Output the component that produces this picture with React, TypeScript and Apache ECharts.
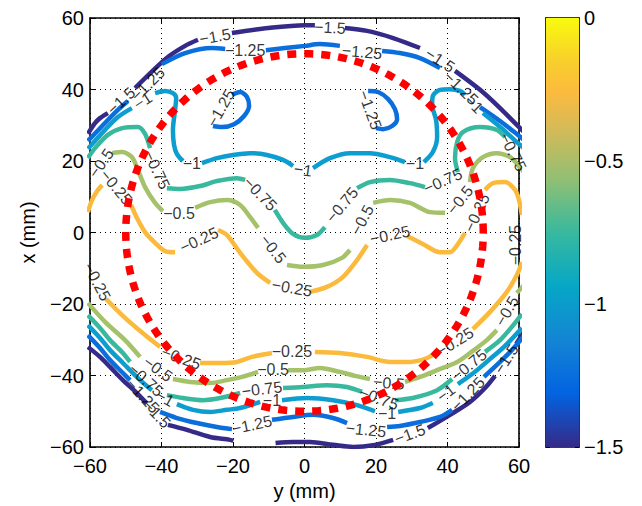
import React, { useEffect, useRef } from 'react';
import * as echarts from 'echarts';

type P = [number, number];
type L = [number, number, number]; // [y (mm), x (mm), label angle]

const LEVELS = [-1.5, -1.25, -1, -0.75, -0.5, -0.25];
const LEVEL_COLORS = ['#352A87', '#0A6EDD', '#0E9DCF', '#38B99E', '#A5C26A', '#FBBA3C'];

// contour lines, one array of polyline segments per level: points are [y (mm), x (mm)]
const SEG_M150: P[][] = [
  [[-60.6, 27.6], [-58.6, 30.6], [-57.2, 32.0], [-55.0, 33.4]],
  [[-47.4, 40.4], [-42.7, 45.0], [-38.2, 49.1], [-33.4, 52.2], [-29.8, 53.9]],
  [[-20.3, 55.8], [-10.2, 57.2], [0.1, 58.0], [2.9, 58.0]],
  [[11.3, 57.2], [17.5, 56.4], [24.8, 54.4], [32.3, 51.6]],
  [[42.1, 45.2], [49.1, 39.9], [54.7, 34.8], [59.4, 30.1], [61.4, 28.1]],
  [[-60.6, -32.0], [-57.2, -34.8], [-54.4, -37.6], [-50.8, -41.3], [-46.9, -44.9], [-44.1, -47.8]],
  [[-38.2, -53.8], [-32.9, -55.2], [-26.4, -57.2], [-20.8, -58.0], [-19.9, -58.3]],
  [[-8.1, -58.9], [-3.2, -58.6], [1.5, -58.6], [8.0, -59.4], [13.6, -60.0], [19.7, -59.4], [24.8, -58.0]],
  [[34.5, -54.7], [40.7, -51.0], [46.3, -47.4], [50.5, -43.5], [53.3, -40.1]],
  [[59.2, -31.2], [61.4, -27.8]],
];
const LAB_M150: L[] = [
  [-51.3, 36.8, 43], [-25.0, 54.8, 10], [7.1, 57.3, -3], [37.9, 48.2, -33],
  [-41.3, -50.8, -46], [29.5, -56.4, 20], [56.4, -35.4, 57],
];

const SEG_M125: P[][] = [
  [[-60.6, 25.6], [-56.6, 29.8], [-52.2, 34.3], [-49.4, 36.8]],
  [[-39.9, 47.1], [-33.4, 50.2], [-25.9, 51.6], [-22.2, 51.3]],
  [[-10.8, 51.0], [-5.5, 51.6], [0.1, 52.2], [4.3, 52.7], [9.9, 52.2]],
  [[21.7, 50.8], [26.7, 50.2], [32.3, 48.8], [37.9, 46.0]],
  [[49.1, 35.1], [54.7, 31.2], [59.7, 27.3], [61.4, 25.9]],
  [[-20.3, 38.5], [-18.0, 39.3], [-16.1, 37.9], [-15.5, 35.4], [-16.9, 32.6], [-19.7, 30.3], [-23.1, 29.5], [-25.6, 29.8]],
  [[17.8, 39.6], [20.6, 39.3], [23.4, 37.3], [25.3, 34.5], [25.9, 31.7], [24.5, 29.8], [22.0, 28.9], [20.0, 29.2]],
  [[-60.6, -28.7], [-57.2, -32.3], [-54.4, -35.7], [-50.8, -39.3], [-48.8, -41.3]],
  [[-40.4, -50.2], [-35.7, -51.9], [-30.1, -53.3], [-24.5, -54.4], [-20.3, -55.0]],
  [[-9.1, -52.4], [-3.2, -51.6], [2.4, -51.0], [8.0, -51.9], [11.9, -53.3]],
  [[23.1, -54.4], [26.7, -54.1], [32.3, -53.0], [37.9, -51.6], [41.3, -49.6]],
  [[50.2, -40.4], [54.7, -36.2], [58.0, -32.9], [61.4, -28.9]],
];
const LAB_M125: L[] = [
  [-43.8, 41.5, 45], [-16.6, 50.8, 0], [16.1, 50.5, -5], [43.8, 40.4, -44],
  [-23.4, 34.8, 60], [18.3, 34.3, -70],
  [-45.2, -45.7, -47], [-14.7, -53.8, 12], [17.2, -55.2, -6], [45.7, -45.2, 46],
];

const SEG_M100: P[][] = [
  [[-60.6, 23.4], [-55.8, 28.7], [-52.2, 32.3], [-48.3, 34.8]],
  [[-41.8, 39.0], [-39.0, 39.6], [-36.8, 39.0], [-35.9, 37.6], [-36.2, 34.3], [-36.8, 28.7], [-36.5, 24.5], [-35.7, 22.0], [-34.0, 20.0]],
  [[-28.7, 19.4], [-24.5, 20.8], [-20.0, 21.7], [-15.2, 22.2], [-10.5, 21.7], [-6.0, 20.3], [-3.2, 18.6]],
  [[2.4, 18.0], [7.1, 20.8], [12.7, 22.2], [18.3, 22.2], [23.9, 21.1], [28.1, 19.7]],
  [[33.4, 19.7], [35.9, 22.5], [37.1, 26.7], [36.8, 31.5], [35.7, 35.7], [35.9, 38.2], [37.9, 39.9], [40.7, 40.1], [43.5, 39.6], [44.9, 38.5]],
  [[49.9, 33.4], [54.7, 29.5], [59.7, 25.0], [61.4, 23.6]],
  [[-60.6, -25.9], [-57.2, -29.5], [-54.4, -32.9], [-50.8, -36.5], [-46.0, -41.3], [-42.7, -44.1]],
  [[-35.7, -48.0], [-31.2, -49.6], [-26.4, -50.2], [-21.7, -49.6], [-18.0, -49.1], [-12.4, -47.4]],
  [[-6.3, -46.9], [0.7, -46.3], [8.0, -46.9], [14.7, -48.3], [19.7, -50.0]],
  [[26.2, -50.2], [32.3, -49.1], [35.9, -47.7]],
  [[42.9, -42.4], [46.9, -39.6], [51.3, -35.9], [55.8, -32.0], [60.8, -26.7]],
];
const LAB_M100: L[] = [
  [-45.2, 36.8, 33], [-31.5, 19.4, 0], [-0.4, 17.5, -8], [30.9, 19.4, 0], [47.4, 35.9, -45],
  [-39.0, -46.3, -29], [-9.1, -47.1, 0], [23.1, -50.5, 0], [39.6, -44.9, 37],
];

const SEG_M075: P[][] = [
  [[-60.6, 20.8], [-58.6, 23.6], [-55.0, 27.3], [-51.0, 29.2], [-46.6, 29.5], [-44.6, 27.6], [-43.2, 23.6]],
  [[-38.5, 12.4], [-34.8, 12.2], [-29.2, 13.0], [-24.5, 14.4], [-18.9, 15.2], [-16.6, 14.7]],
  [[-8.3, 6.3], [-6.0, 2.7], [-3.2, -0.4], [0.1, -1.5], [3.5, -0.7], [5.7, 1.5]],
  [[14.7, 12.4], [18.3, 14.1], [23.9, 14.7], [29.5, 13.8], [33.7, 12.7]],
  [[42.9, 16.9], [42.1, 20.8], [42.7, 25.3], [44.3, 28.1], [49.1, 29.5], [53.8, 28.7], [56.1, 26.7]],
  [[-60.6, -23.1], [-57.2, -26.7], [-54.4, -30.1], [-50.8, -33.7], [-48.8, -36.2]],
  [[-38.5, -45.5], [-34.0, -46.3], [-28.4, -46.9], [-23.6, -46.3], [-18.0, -44.9]],
  [[-6.0, -43.5], [-0.4, -43.2], [6.3, -42.7], [11.9, -43.2], [16.1, -44.6]],
  [[25.3, -46.9], [30.3, -46.3], [37.1, -44.1], [41.3, -41.0]],
  [[50.5, -33.4], [54.7, -30.1], [58.0, -26.4], [60.8, -22.8]],
];
const LAB_M075: L[] = [
  [-41.3, 17.5, -65], [-12.4, 10.8, -46], [10.5, 7.7, 50], [38.7, 14.4, 24], [58.3, 22.5, -63],
  [-44.3, -41.3, -42], [-11.9, -43.8, 7], [20.8, -46.4, -20], [46.0, -37.1, 39],
];

const SEG_M050: P[][] = [
  [[-53.8, 22.2], [-51.0, 22.5], [-48.3, 21.1], [-46.6, 17.5], [-44.6, 12.7], [-41.8, 8.3], [-39.6, 6.0]],
  [[-30.6, 6.9], [-26.4, 8.5], [-21.7, 9.1], [-18.0, 7.7], [-15.2, 4.3], [-13.0, 1.3]],
  [[-4.9, -9.1], [-0.4, -9.6], [5.2, -9.1], [10.5, -7.1], [12.7, -4.9]],
  [[19.2, 8.3], [23.9, 9.1], [29.5, 8.3], [35.1, 5.7], [39.3, 5.5]],
  [[46.3, 14.1], [47.1, 18.0], [49.9, 21.1], [53.8, 22.2], [57.5, 21.1], [59.7, 18.9], [61.4, 16.9]],
  [[-60.6, -19.7], [-55.8, -25.0], [-50.2, -30.1], [-46.0, -34.8]],
  [[-36.8, -41.0], [-32.0, -41.8], [-26.4, -42.1], [-21.7, -41.3], [-17.5, -40.4], [-13.0, -39.0]],
  [[-4.6, -38.5], [0.1, -38.5], [4.3, -37.9], [9.9, -39.0], [14.1, -40.1], [18.3, -41.0]],
  [[28.1, -41.8], [32.3, -40.4], [37.1, -38.5], [42.7, -36.2], [46.3, -33.7], [51.0, -30.1], [53.8, -27.3]],
  [[59.4, -16.9], [61.4, -14.7]],
];
const LAB_M050: L[] = [
  [-56.9, 19.4, 55], [-35.1, 5.2, 0], [-8.8, -4.6, -52], [16.1, 3.5, 62], [43.5, 9.1, 51],
  [-41.0, -38.2, -36], [-8.8, -38.2, 0], [23.6, -42.1, -5], [56.6, -22.0, 60],
];

const SEG_M025: P[][] = [
  [[-60.6, 5.7], [-59.4, 9.1], [-58.0, 11.6], [-56.6, 13.3]],
  [[-48.5, 7.7], [-46.9, 4.1], [-44.6, 0.1], [-41.8, -2.9], [-39.0, -5.2], [-36.2, -5.5]],
  [[-24.2, 0.7], [-21.7, -0.7], [-18.0, -5.7], [-13.3, -11.3], [-9.6, -14.1]],
  [[1.5, -16.6], [6.3, -15.2], [10.8, -12.4], [14.7, -7.7], [17.5, -3.5]],
  [[28.7, -1.0], [33.1, -3.2], [37.9, -5.5], [40.7, -5.5], [42.7, -3.5], [44.9, -0.1]],
  [[50.5, 11.9], [52.7, 13.8], [56.1, 14.1], [58.9, 11.9], [60.0, 9.1], [60.8, 4.9]],
  [[-55.5, -18.6], [-50.2, -23.9], [-44.6, -28.7], [-40.4, -32.0]],
  [[-29.2, -36.5], [-23.6, -36.5], [-18.9, -36.2], [-14.7, -34.8], [-9.1, -33.7]],
  [[2.9, -33.4], [9.9, -33.7], [17.5, -34.8], [23.9, -36.2], [29.5, -36.2], [34.3, -35.1], [36.8, -33.4]],
  [[47.1, -27.0], [51.9, -22.2], [56.6, -16.6], [59.4, -11.9], [60.8, -8.3]],
];
const LAB_M025: L[] = [
  [-52.7, 12.7, -50], [-29.5, -2.1, 25], [-3.5, -15.5, -10], [23.9, -0.7, 12], [48.2, 5.5, 65], [59.0, -3.5, 90],
  [-58.0, -13.8, -62], [-34.5, -35.1, -20], [-3.5, -33.4, 0], [42.1, -30.6, 32],
];

const CONTOURS = [SEG_M150, SEG_M125, SEG_M100, SEG_M075, SEG_M050, SEG_M025];
const CONTOUR_LABELS = [LAB_M150, LAB_M125, LAB_M100, LAB_M075, LAB_M050, LAB_M025];

const AXIS_MIN = -60;
const AXIS_MAX = 60;
const AXIS_STEP = 20;
const CBAR_MIN = -1.5;
const CBAR_MAX = 0;
const CBAR_STEP = 0.5;
const CIRCLE_RADIUS = 50; // red dashed reference circle, mm

// parula colormap stops: [fraction from min, colour]
const PARULA: [number, string][] = [
  [0, '#352A87'], [0.125, '#0363E1'], [0.25, '#1485D4'], [0.375, '#06A7C6'],
  [0.5, '#38B99E'], [0.625, '#92BF73'], [0.75, '#D9BA56'], [0.83, '#FCBB3E'],
  [0.9, '#F8CF2B'], [1, '#F9FB0E'],
];

const FONT = "'Liberation Sans', Arial, Helvetica, sans-serif";
const fmt = (v: number) => (v < 0 ? '\u2212' + String(Math.abs(v)) : String(v));

export default function App() {
  const ref = useRef<HTMLDivElement>(null);
  useEffect(() => {
    if (!ref.current) return;
    const chart = echarts.init(ref.current, undefined, { renderer: 'svg' });

    const series: any[] = [];
    CONTOURS.forEach((segs, i) => {
      segs.forEach((seg) => {
        series.push({
          type: 'line', xAxisIndex: 0, yAxisIndex: 0, data: seg, symbol: 'none', smooth: 0.3,
          lineStyle: { color: LEVEL_COLORS[i], width: 4.5 }, silent: true, z: 3, clip: true,
        });
      });
      series.push({
        type: 'scatter', xAxisIndex: 0, yAxisIndex: 0, symbolSize: 0, silent: true, z: 5,
        data: CONTOUR_LABELS[i].map(([u, v, r]) => ({ value: [u, v], label: { rotate: r } })),
        label: {
          show: true, position: 'inside', formatter: fmt(LEVELS[i]), fontSize: 16,
          color: '#000', fontFamily: FONT,
        },
      });
    });

    const circle: P[] = [];
    for (let k = 0; k <= 240; k++) {
      const t = (k / 240) * Math.PI * 2;
      circle.push([CIRCLE_RADIUS * Math.cos(t), CIRCLE_RADIUS * Math.sin(t)]);
    }
    series.push({
      type: 'line', xAxisIndex: 0, yAxisIndex: 0, data: circle, symbol: 'none',
      lineStyle: { color: '#FF0000', width: 7.5, type: [9, 8] }, silent: true, z: 6,
    });

    series.push({
      type: 'bar', xAxisIndex: 2, yAxisIndex: 2, data: [CBAR_MIN], barWidth: '100%', silent: true,
      itemStyle: {
        color: new echarts.graphic.LinearGradient(0, 0, 0, 1,
          PARULA.map(([o, c]) => ({ offset: 1 - o, color: c })).reverse()),
      },
    });

    const lineBlack = { show: true, onZero: false, lineStyle: { color: '#000', width: 1.6 } };
    const mainVal = { type: 'value', min: AXIS_MIN, max: AXIS_MAX, interval: AXIS_STEP };
    const tickIn = { show: true, inside: true, length: 5, lineStyle: { color: '#000' } };
    const labelStyle = { color: '#000', fontSize: 20, fontFamily: FONT, formatter: fmt };

    chart.setOption({
      animation: false,
      backgroundColor: '#fff',
      grid: [
        { left: 90, top: 18, width: 429, height: 429, containLabel: false },
        { left: 546, top: 18, width: 33, height: 429, containLabel: false },
      ],
      xAxis: [
        {
          ...mainVal, gridIndex: 0, position: 'bottom', axisLine: lineBlack, axisTick: tickIn,
          axisLabel: { ...labelStyle, margin: 9 },
          splitLine: { show: true, lineStyle: { color: '#000', width: 1, type: [1, 4] } },
          name: 'y (mm)', nameLocation: 'middle', nameGap: 34,
          nameTextStyle: { color: '#000', fontSize: 20, fontFamily: FONT },
        },
        {
          ...mainVal, gridIndex: 0, position: 'top', axisLine: lineBlack, axisTick: tickIn,
          axisLabel: { show: false }, splitLine: { show: false },
        },
        {
          type: 'category', data: ['cb'], gridIndex: 1, position: 'bottom', axisLine: lineBlack,
          axisTick: { show: false }, axisLabel: { show: false }, splitLine: { show: false },
        },
        {
          type: 'category', data: ['cb'], gridIndex: 1, position: 'top', axisLine: lineBlack,
          axisTick: { show: false }, axisLabel: { show: false }, splitLine: { show: false },
        },
      ],
      yAxis: [
        {
          ...mainVal, gridIndex: 0, position: 'left', axisLine: lineBlack, axisTick: tickIn,
          axisLabel: { ...labelStyle, margin: 6 },
          splitLine: { show: true, lineStyle: { color: '#000', width: 1, type: [1, 4] } },
          name: 'x (mm)', nameLocation: 'middle', nameGap: 52,
          nameTextStyle: { color: '#000', fontSize: 20, fontFamily: FONT },
        },
        {
          ...mainVal, gridIndex: 0, position: 'right', axisLine: lineBlack, axisTick: tickIn,
          axisLabel: { show: false }, splitLine: { show: false },
        },
        {
          type: 'value', gridIndex: 1, position: 'right', min: CBAR_MIN, max: CBAR_MAX, interval: CBAR_STEP,
          axisLine: lineBlack, axisTick: { show: true, inside: true, length: 4, lineStyle: { color: '#000' } },
          axisLabel: { ...labelStyle, margin: 5 }, splitLine: { show: false },
        },
        {
          type: 'value', gridIndex: 1, position: 'left', min: CBAR_MIN, max: CBAR_MAX, interval: CBAR_STEP,
          axisLine: lineBlack, axisTick: { show: true, inside: true, length: 4, lineStyle: { color: '#000' } },
          axisLabel: { show: false }, splitLine: { show: false },
        },
      ],
      series,
    });
    return () => chart.dispose();
  }, []);
  return <div ref={ref} style={{ position: 'fixed', left: 0, top: 0, width: 642, height: 506 }} />;
}
